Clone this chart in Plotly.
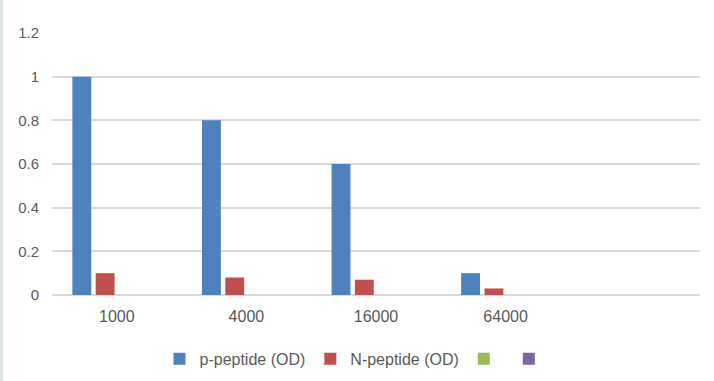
import plotly.graph_objects as go

categories = ["1000", "4000", "16000", "64000", " "]
p_peptide = [1.0, 0.8, 0.6, 0.1, None]
n_peptide = [0.1, 0.08, 0.07, 0.03, None]
series3 = [None, None, None, None, None]
series4 = [None, None, None, None, None]

names = ["p-peptide (OD)", "N-peptide (OD)", "", ""]
colors = ["#4f81bd", "#c0504d", "#9bbb59", "#8064a2"]
values = [p_peptide, n_peptide, series3, series4]

FONT = "Liberation Sans"
TXT = "#595959"

fig = go.Figure()
for nm, col, vals in zip(names, colors, values):
    fig.add_trace(go.Bar(x=categories, y=vals, name=nm, marker_color=col,
                         marker_line_width=0, showlegend=True))

fig.update_layout(
    width=714, height=381,
    margin=dict(l=52, r=14, t=33, b=86, autoexpand=False),
    paper_bgcolor="white", plot_bgcolor="white",
    barmode="group", bargap=0.28, bargroupgap=0.19,
    font=dict(family=FONT, size=16, color=TXT),
    showlegend=True,
    legend=dict(orientation="h", xref="container", yref="container",
                x=0.5, xanchor="center", y=0.058, yanchor="middle",
                font=dict(size=16, color=TXT), itemwidth=30,
                bgcolor="rgba(0,0,0,0)"),
    xaxis=dict(type="category", showgrid=False, showline=False, zeroline=False,
               automargin=False,
               ticks="", tickfont=dict(size=16, color=TXT), ticklabelstandoff=10,
               fixedrange=True),
    yaxis=dict(range=[0, 1.2], tickvals=[0, 0.2, 0.4, 0.6, 0.8, 1.0, 1.2],
               ticktext=["0", "0.2", "0.4", "0.6", "0.8", "1", "1.2"],
               automargin=False,
               showgrid=True, gridcolor="#d9d9d9", gridwidth=1.5,
               zeroline=True, zerolinecolor="#d9d9d9", zerolinewidth=1.5,
               showline=False, ticks="", tickfont=dict(size=15, color=TXT),
               ticklabelstandoff=12),
)

fig.add_shape(type="rect", xref="paper", yref="paper", x0=-52/648, x1=-49/648,
              y0=-86/262, y1=1 + 33/262, fillcolor="#dce6dc", line_width=0, layer="below")

fig.write_html("out.html", config={"displayModeBar": False},
               post_script="document.body.style.margin='0';document.body.style.overflow='hidden';")
